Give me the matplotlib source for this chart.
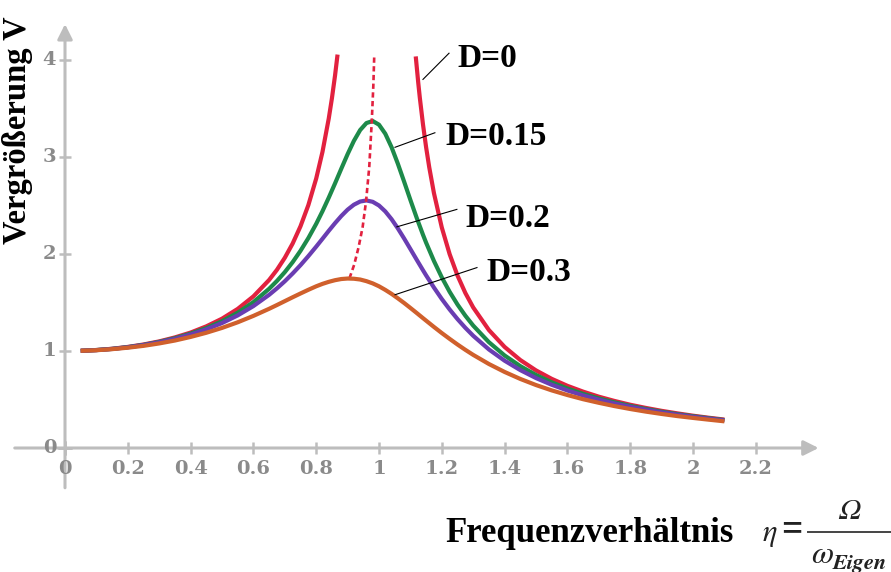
import numpy as np
import matplotlib
matplotlib.use("Agg")
import matplotlib.pyplot as plt

# frequency ratio eta and magnification V
eta = [0.05, 0.1, 0.15, 0.2, 0.25, 0.3, 0.35, 0.4, 0.45, 0.5, 0.55, 0.6, 0.65, 0.675, 0.7,
       0.725, 0.75, 0.775, 0.8, 0.82, 0.84, 0.86, 0.88, 0.9, 0.92, 0.94, 0.96, 0.98, 1.0,
       1.02, 1.04, 1.06, 1.08, 1.1, 1.12, 1.14, 1.15, 1.175, 1.2, 1.225, 1.25, 1.275, 1.3,
       1.35, 1.4, 1.45, 1.5, 1.55, 1.6, 1.65, 1.7, 1.75, 1.8, 1.85, 1.9, 1.95, 2.0, 2.05, 2.1]
v_015 = [1.002, 1.010, 1.022, 1.040, 1.063, 1.094, 1.132, 1.179, 1.236, 1.307, 1.395, 1.504,
         1.641, 1.722, 1.813, 1.916, 2.033, 2.164, 2.311, 2.441, 2.581, 2.728, 2.880, 3.029,
         3.166, 3.278, 3.350, 3.371, 3.333, 3.240, 3.101, 2.931, 2.746, 2.557, 2.373, 2.199,
         2.117, 1.928, 1.759, 1.610, 1.479, 1.364, 1.262, 1.091, 0.954, 0.844, 0.753, 0.677,
         0.613, 0.558, 0.511, 0.470, 0.434, 0.402, 0.374, 0.349, 0.327, 0.307, 0.288]
v_02 = [1.002, 1.009, 1.021, 1.038, 1.061, 1.090, 1.125, 1.170, 1.223, 1.288, 1.367, 1.463,
        1.579, 1.646, 1.719, 1.799, 1.885, 1.978, 2.076, 2.157, 2.239, 2.318, 2.392, 2.457,
        2.508, 2.541, 2.552, 2.538, 2.500, 2.439, 2.359, 2.264, 2.160, 2.051, 1.941, 1.833,
        1.780, 1.654, 1.536, 1.428, 1.329, 1.239, 1.157, 1.016, 0.900, 0.803, 0.721, 0.652,
        0.593, 0.542, 0.498, 0.459, 0.425, 0.395, 0.368, 0.344, 0.322, 0.303, 0.285]
v_03 = [1.002, 1.008, 1.019, 1.034, 1.053, 1.078, 1.108, 1.145, 1.188, 1.238, 1.296, 1.362,
        1.435, 1.474, 1.514, 1.554, 1.593, 1.631, 1.667, 1.692, 1.713, 1.730, 1.742, 1.747,
        1.745, 1.737, 1.720, 1.697, 1.667, 1.630, 1.589, 1.543, 1.495, 1.444, 1.392, 1.339,
        1.313, 1.248, 1.185, 1.125, 1.067, 1.012, 0.960, 0.866, 0.784, 0.712, 0.649, 0.594,
        0.546, 0.503, 0.466, 0.432, 0.402, 0.375, 0.351, 0.329, 0.310, 0.292, 0.275]

# undamped case, two branches left and right of resonance
eta_d0_left = [0.05, 0.1, 0.15, 0.2, 0.25, 0.3, 0.35, 0.4, 0.45, 0.5, 0.55, 0.6, 0.65, 0.675,
               0.7, 0.725, 0.75, 0.775, 0.8, 0.82, 0.84, 0.85, 0.86, 0.868]
v_d0_left = [1.003, 1.010, 1.023, 1.042, 1.067, 1.099, 1.140, 1.190, 1.254, 1.333, 1.434, 1.563,
             1.732, 1.837, 1.961, 2.108, 2.286, 2.504, 2.778, 3.053, 3.397, 3.604, 3.840, 4.056]
eta_d0_right = [1.117, 1.125, 1.13, 1.14, 1.15, 1.16, 1.175, 1.2, 1.225, 1.25, 1.275, 1.3, 1.35,
                1.4, 1.45, 1.5, 1.55, 1.6, 1.65, 1.7, 1.75, 1.8, 1.85, 1.9, 1.95, 2.0, 2.05, 2.1]
v_d0_right = [4.037, 3.765, 3.611, 3.338, 3.101, 2.894, 2.627, 2.273, 1.998, 1.778, 1.598, 1.449,
              1.216, 1.042, 0.907, 0.800, 0.713, 0.641, 0.581, 0.529, 0.485, 0.446, 0.413,
              0.383, 0.357, 0.333, 0.312, 0.293]

# locus of the maxima (dashed)
peak_eta = [0.906, 0.921, 0.935, 0.948, 0.959, 0.969, 0.977, 0.982, 0.985]
peak_v = [1.75, 1.89, 2.07, 2.28, 2.55, 2.90, 3.37, 3.74, 4.06]

x_ticks = [0.2, 0.4, 0.6, 0.8, 1, 1.2, 1.4, 1.6, 1.8, 2, 2.2]
y_ticks = [1, 2, 3, 4]

red = '#e2213f'
green = '#1d8a4a'
purple = '#6a3db2'
orange = '#d0602c'
axis_grey = '#bdbdbd'
label_grey = '#8a8a8a'

# 1 unit eta = 314 px, 1 unit V = 97 px, origin at pixel (65, 448)
fig = plt.figure(figsize=(8.91, 5.72), dpi=100)
ax = fig.add_axes([0, 0, 1, 1])
ax.set_xlim(-65 / 314, 826 / 314)
ax.set_ylim(-124 / 97, 448 / 97)
ax.axis('off')

# axes with arrow heads
ax.annotate('', xy=(2.40, 0), xytext=(-0.16, 0),
            arrowprops=dict(arrowstyle='-|>,head_length=0.9,head_width=0.45',
                            color=axis_grey, lw=2.2, shrinkA=0, shrinkB=0))
ax.annotate('', xy=(0, 4.37), xytext=(0, -0.41),
            arrowprops=dict(arrowstyle='-|>,head_length=0.9,head_width=0.45',
                            color=axis_grey, lw=2.2, shrinkA=0, shrinkB=0))
ax.plot(x_ticks, [0] * len(x_ticks), ls='none', marker='|', ms=9, mew=1.8, color=axis_grey)
ax.plot([0] * len(y_ticks), y_ticks, ls='none', marker='_', ms=9, mew=1.8, color=axis_grey)
ax.plot([0, 0], [0, 0], ls='none', marker='+', ms=10, mew=1.8, color=axis_grey)

tick_font = dict(family='DejaVu Serif', weight='bold', size=14, color=label_grey)
for t in x_ticks:
    ax.text(t, -0.22, f'{t:g}', ha='center', va='center', **tick_font)
ax.text(0, -0.22, '0', ha='center', va='center', **tick_font)
for t in [0] + y_ticks:
    ax.text(-0.028, t, f'{t:g}', ha='right', va='center', **tick_font)

# curves
lw = 3.0
ax.plot(eta_d0_left, v_d0_left, color=red, lw=lw, solid_capstyle='butt')
ax.plot(eta_d0_right, v_d0_right, color=red, lw=lw, solid_capstyle='butt')
ax.plot(eta, v_015, color=green, lw=lw, solid_capstyle='butt')
ax.plot(eta, v_02, color=purple, lw=lw, solid_capstyle='butt')
ax.plot(peak_eta, peak_v, color=red, lw=1.9, ls=(0, (2.0, 1.3)))
ax.plot(eta, v_03, color=orange, lw=lw, solid_capstyle='butt')

# curve labels with leader lines
label_font = dict(family='Liberation Serif', weight='bold', size=24, color='black')
labels = [
    ('D=0', (1.140, 3.80), (1.223, 4.07), (1.251, 4.02)),
    ('D=0.15', (1.051, 3.10), (1.178, 3.25), (1.210, 3.21)),
    ('D=0.2', (1.057, 2.28), (1.248, 2.46), (1.274, 2.37)),
    ('D=0.3', (1.051, 1.58), (1.312, 1.86), (1.341, 1.81)),
]
for text, start, end, pos in labels:
    ax.plot([start[0], end[0]], [start[1], end[1]], color='black', lw=0.8)
    ax.text(pos[0], pos[1], text, ha='left', va='center', **label_font)

# axis titles
fig.text(33 / 891, 1 - 130 / 572, 'Vergrößerung V', rotation=90, ha='right', va='center',
         family='Liberation Serif', weight='bold', size=23.5)
fig.text(445 / 891, 1 - 534 / 572, 'Frequenzverhältnis', ha='left', va='center',
         family='Liberation Serif', weight='bold', size=25)

# eta = Omega / omega_Eigen
greek = dict(family='STIXGeneral', style='italic', color='#222222')
fig.text(770 / 891, 1 - 533 / 572, 'η', ha='center', va='center', size=22, **greek)
fig.text(792 / 891, 1 - 530 / 572, '=', ha='center', va='center', size=27,
         family='Liberation Serif', weight='bold', color='#222222')
fig.add_artist(plt.Line2D([808 / 891, 1.0], [1 - 532 / 572] * 2, color='#444444', lw=1.4,
                          transform=fig.transFigure))
fig.text(849 / 891, 1 - 512 / 572, 'Ω', ha='center', va='center', size=21, **greek)
fig.text(822 / 891, 1 - 556 / 572, 'ω', ha='center', va='center', size=23, **greek)
fig.text(833 / 891, 1 - 563 / 572, 'Eigen', ha='left', va='center', size=16,
         family='STIXGeneral', style='italic', weight='bold', color='#222222')

plt.savefig('out.png', dpi=100)
